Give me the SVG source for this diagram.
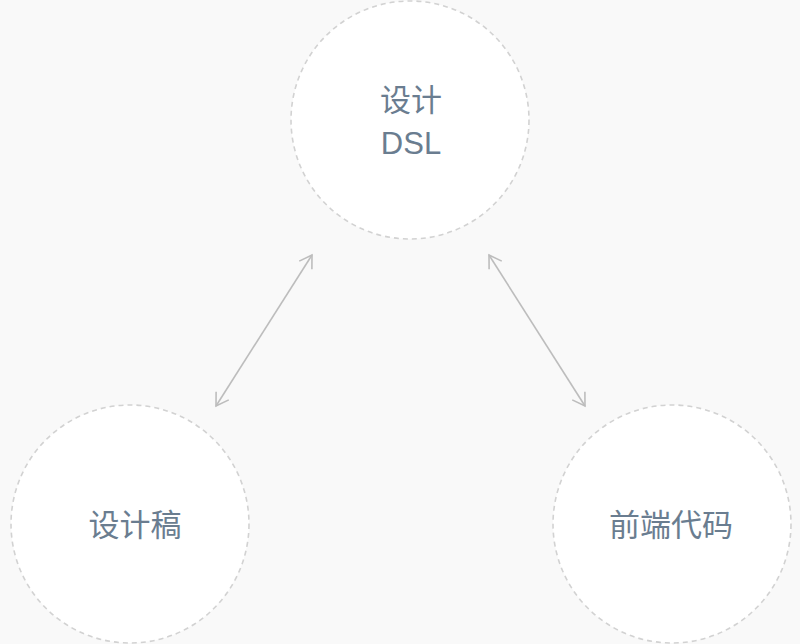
<svg xmlns="http://www.w3.org/2000/svg" width="800" height="644" viewBox="0 0 800 644">
<style>
.node circle{fill:#fff;stroke:#d2d2d2;stroke-width:1.6;stroke-dasharray:5 4}
.node text{font-family:"Liberation Sans","Noto Sans CJK SC",sans-serif;font-size:31px;fill:#6a7d90;text-anchor:middle}
.conn line{stroke:#bdbdbd;stroke-width:1.6;fill:none;marker-start:url(#ah);marker-end:url(#ah)}
</style>
<defs>
<marker id="ah" viewBox="-14 -9 16 18" markerWidth="16" markerHeight="18" refX="0" refY="0" markerUnits="userSpaceOnUse" orient="auto-start-reverse">
<path d="M-12,-7.5 L0,0 L-12,7.5" fill="none" stroke="#bdbdbd" stroke-width="1.6"/>
</marker>
</defs>
<rect width="800" height="644" fill="#f9f9f9"/>
<g class="conn">
<line x1="216" y1="406" x2="312" y2="255"/>
<line x1="489" y1="255" x2="585" y2="406"/>
</g>
<g id="dsl" class="node">
<circle cx="410" cy="120" r="119"/>
<text x="411" y="111">设计</text>
<text x="411" y="154">DSL</text>
</g>
<g id="design" class="node">
<circle cx="130" cy="524" r="119"/>
<text x="135" y="536">设计稿</text>
</g>
<g id="code" class="node">
<circle cx="672" cy="524" r="119"/>
<text x="671" y="536">前端代码</text>
</g>
</svg>
